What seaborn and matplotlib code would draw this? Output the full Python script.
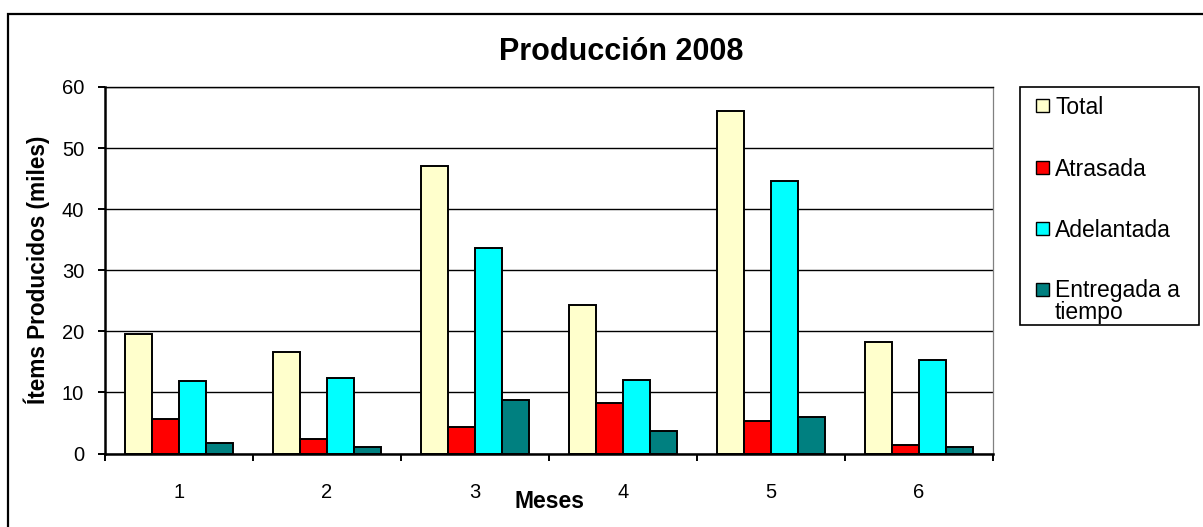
import numpy as np
import pandas as pd
import matplotlib
matplotlib.use("Agg")
import matplotlib.pyplot as plt
from matplotlib.patches import Rectangle
import seaborn as sns

# Monthly production figures (thousands of items)
meses = ["1", "2", "3", "4", "5", "6"]
total = [19.6, 16.6, 47.0, 24.3, 56.0, 18.2]
atrasada = [5.6, 2.4, 4.3, 8.2, 5.3, 1.4]
adelantada = [11.8, 12.4, 33.6, 12.1, 44.6, 15.3]
entregada = [1.7, 1.1, 8.8, 3.7, 5.9, 1.1]

series = ["Total", "Atrasada", "Adelantada", "Entregada a tiempo"]
etiquetas = [["Total"], ["Atrasada"], ["Adelantada"], ["Entregada a", "tiempo"]]
colores = ["#FFFFCC", "#FF0000", "#00FFFF", "#008080"]

df = pd.DataFrame({
    "Mes": meses * 4,
    "Valor": total + atrasada + adelantada + entregada,
    "Serie": np.repeat(series, len(meses)),
})

sns.set_theme(style="white")
plt.rcParams["font.family"] = ["Liberation Sans", "DejaVu Sans"]

W, H = 1203, 527
fig = plt.figure(figsize=(W / 100, H / 100), dpi=100)


def fx(px):
    return px / W


def fy(py):
    return 1 - py / H


ax = fig.add_axes([fx(105), fy(453.5), (993 - 105) / W, (453.5 - 87) / H])

sns.barplot(data=df, x="Mes", y="Valor", hue="Serie", hue_order=series,
            palette=colores, saturation=1, width=0.73, gap=0,
            edgecolor="black", linewidth=1.4, legend=False, ax=ax)

ax.set_xlim(-0.5, 5.5)
ax.set_ylim(0, 60)
ax.set_yticks(np.arange(0, 61, 10))
ax.set_axisbelow(True)
ax.yaxis.grid(True, color="black", linewidth=1.0)
ax.xaxis.grid(False)
ax.set_xlabel("")
ax.set_ylabel("")

# category boundary ticks below the axis, labels at category centres
ax.set_xticks(np.arange(-0.5, 6, 1), minor=True)
ax.tick_params(axis="x", which="major", length=0, pad=21, labelsize=14.5, colors="black")
ax.tick_params(axis="x", which="minor", length=5, width=1.4, color="black",
               direction="out", bottom=True)
ax.tick_params(axis="y", which="major", length=5, width=1.4, color="black", direction="out",
               left=True, pad=10, labelsize=14.5, labelcolor="black")

for side in ["left", "bottom"]:
    ax.spines[side].set_color("black")
    ax.spines[side].set_linewidth(1.8)
ax.spines["top"].set_visible(True)
ax.spines["top"].set_color("black")
ax.spines["top"].set_linewidth(1.0)
ax.spines["right"].set_visible(True)
ax.spines["right"].set_color("#808080")
ax.spines["right"].set_linewidth(0.9)

fig.text(fx(621), fy(52), "Producción 2008", ha="center", va="center",
         fontsize=22, fontweight="bold", color="black")
fig.text(fx(37), fy(270), "Ítems Producidos (miles)", ha="center", va="center",
         rotation=90, fontsize=16.3, fontweight="bold", color="black")
fig.text(fx(550), fy(508), "Meses", ha="center", va="baseline",
         fontsize=16.5, fontweight="bold", color="black")

# outer chart frame
fig.add_artist(Rectangle((fx(8), -0.05), 1.1, fy(14) + 0.05, transform=fig.transFigure,
                         fill=False, edgecolor="black", linewidth=1.6, clip_on=False))

# legend box with square swatches
fig.add_artist(Rectangle((fx(1020), fy(325)), (1199 - 1020) / W, (325 - 87) / H,
                         transform=fig.transFigure, facecolor="white",
                         edgecolor="black", linewidth=1.2))
baselines = [114, 176, 237, 297.5]
line_step = 21.5
for color, lines, base in zip(colores, etiquetas, baselines):
    fig.add_artist(Rectangle((fx(1036), fy(base - 2)), 13 / W, 13 / H,
                             transform=fig.transFigure, facecolor=color,
                             edgecolor="black", linewidth=1.0))
    for i, line in enumerate(lines):
        fig.text(fx(1055), fy(base + i * line_step), line, ha="left", va="baseline",
                 fontsize=16.5, color="black")

fig.savefig("out.png", dpi=100, facecolor="white")
